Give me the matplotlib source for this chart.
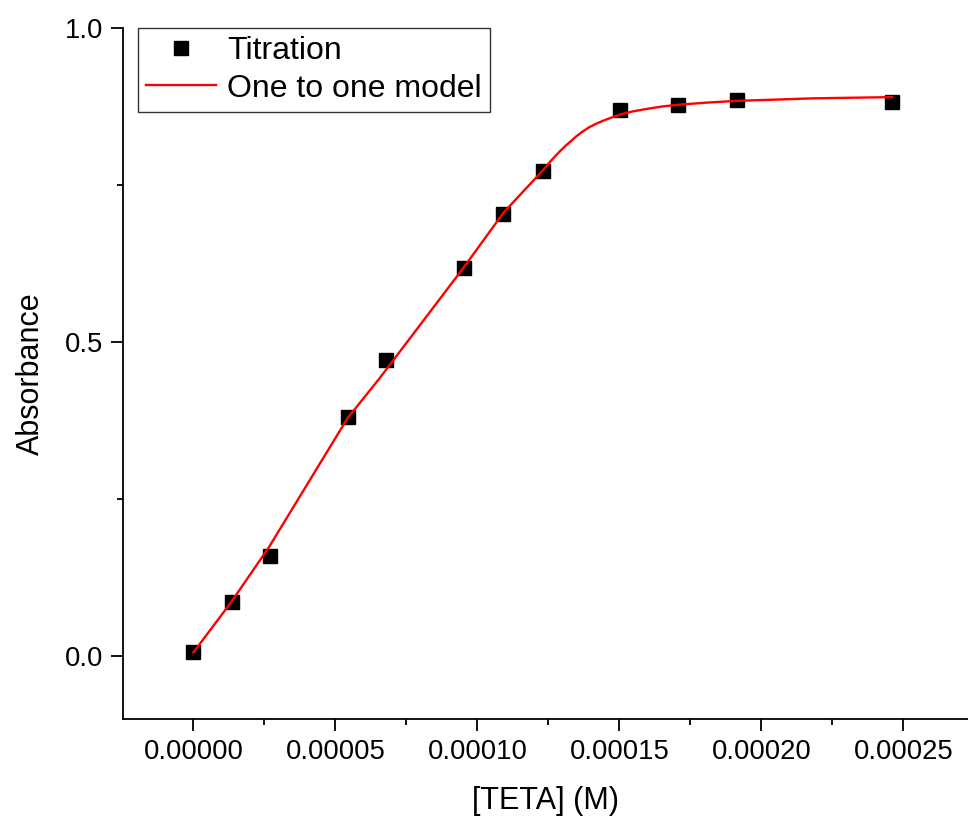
import matplotlib
matplotlib.use("Agg")
import matplotlib.pyplot as plt
from matplotlib.ticker import MultipleLocator, FormatStrFormatter

plt.rcParams['font.family'] = ['Liberation Sans', 'DejaVu Sans']

# Titration data
titration_x = [0.0, 1.35e-5, 2.71e-5, 5.46e-5, 6.80e-5, 9.54e-5, 1.092e-4, 1.230e-4,
               1.502e-4, 1.708e-4, 1.913e-4, 2.460e-4]
titration_y = [0.006, 0.087, 0.160, 0.380, 0.471, 0.618, 0.704, 0.772,
               0.870, 0.877, 0.886, 0.882]

# One to one model curve
model_x = [0.0, 1.33e-5, 2.68e-5, 5.43e-5, 6.55e-5, 9.54e-5, 1.092e-4, 1.230e-4,
           1.260e-4, 1.289e-4, 1.312e-4, 1.330e-4, 1.347e-4, 1.370e-4, 1.394e-4,
           1.420e-4, 1.441e-4, 1.470e-4, 1.500e-4, 1.545e-4, 1.594e-4,
           1.650e-4, 1.711e-4, 1.800e-4, 1.912e-4, 2.050e-4, 2.180e-4, 2.461e-4]
model_y = [0.006, 0.086, 0.175, 0.379, 0.442, 0.620, 0.706, 0.773,
           0.789, 0.803, 0.813, 0.820, 0.827, 0.835, 0.842,
           0.848, 0.852, 0.857, 0.862, 0.867, 0.871,
           0.875, 0.878, 0.881, 0.884, 0.886, 0.888, 0.890]

fig = plt.figure(figsize=(9.68, 8.25), dpi=100)
ax = fig.add_axes([123/968, 1 - 719/825, (968 - 123)/968, (719 - 28)/825])

ax.plot(titration_x, titration_y, 's', color='black', ms=10, label='Titration', zorder=3)
ax.plot(model_x, model_y, '-', color='red', lw=1.7, label='One to one model', zorder=4,
        solid_joinstyle='round')

ax.set_xlim(-0.0000248, 0.0002728)
ax.set_ylim(-0.1, 1.0)

for s in ['top', 'right']:
    ax.spines[s].set_visible(False)
for s in ['left', 'bottom']:
    ax.spines[s].set_linewidth(1.3)

ax.xaxis.set_major_locator(MultipleLocator(0.00005))
ax.xaxis.set_minor_locator(MultipleLocator(0.000025))
ax.xaxis.set_major_formatter(FormatStrFormatter('%.5f'))
ax.yaxis.set_major_locator(MultipleLocator(0.5))
ax.yaxis.set_minor_locator(MultipleLocator(0.25))
ax.yaxis.set_major_formatter(FormatStrFormatter('%.1f'))

ax.tick_params(which='major', direction='out', length=8.5, width=1.3, labelsize=19.8, pad=6)
ax.tick_params(which='minor', direction='out', length=4.3, width=1.3)

ax.set_xlabel('[TETA] (M)', fontsize=22, labelpad=15)
ax.set_ylabel('Absorbance', fontsize=22, labelpad=13)

leg = ax.legend(loc='upper left', bbox_to_anchor=(15/845, 1.0), borderaxespad=0,
                fontsize=23, frameon=True, fancybox=False, edgecolor='black',
                handlelength=2.2, handletextpad=0.35, labelspacing=0.24,
                borderpad=0.25, markerscale=1.0)
leg.get_frame().set_linewidth(1.0)

fig.savefig('out.png', dpi=100)
